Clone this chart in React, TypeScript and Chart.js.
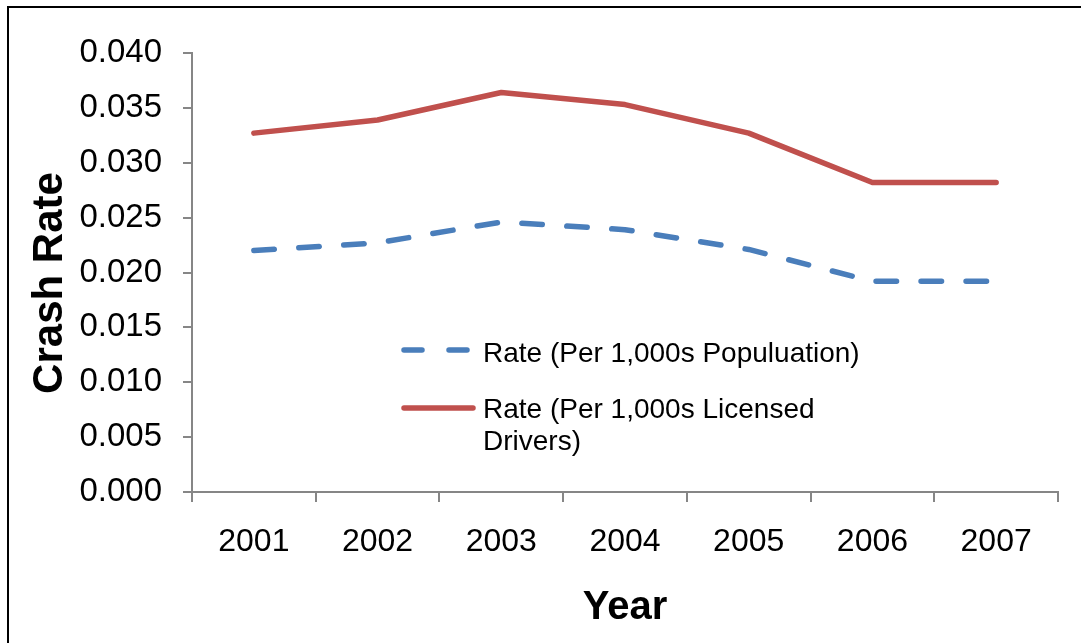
import React, { useEffect, useRef } from "react";
import { Chart, registerables } from "chart.js";

Chart.register(...registerables);

const years = ["2001", "2002", "2003", "2004", "2005", "2006", "2007"];
const populationRate = [0.022, 0.0227, 0.0246, 0.0239, 0.0221, 0.0192, 0.0192];
const licensedRate = [0.0327, 0.0339, 0.0364, 0.0353, 0.0327, 0.0282, 0.0282];
const populationLabel = "Rate (Per 1,000s Populuation)";
const licensedLabel = ["Rate (Per 1,000s Licensed", "Drivers)"];
const yTitle = "Crash Rate";
const xTitle = "Year";

const BLUE = "#4A7EBB";
const RED = "#C0504D";
const AXIS = "#868686";
const FONT = "'Liberation Sans', Arial, sans-serif";

const decorPlugin = {
  id: "decor",
  beforeDraw(chart: any) {
    const ctx = chart.ctx;
    ctx.save();
    ctx.fillStyle = "#ffffff";
    ctx.fillRect(0, 0, chart.width, chart.height);
    ctx.restore();
  },
  afterDraw(chart: any) {
    const ctx = chart.ctx;
    const a = chart.chartArea;
    ctx.save();
    // outer frame
    ctx.strokeStyle = "#000000";
    ctx.lineWidth = 2;
    ctx.strokeRect(8, 7, chart.width + 40, chart.height + 40);

    // y axis title
    ctx.save();
    ctx.translate(50, (a.top + a.bottom) / 2 + 10.5);
    ctx.rotate(-Math.PI / 2);
    ctx.font = `bold 42px ${FONT}`;
    ctx.fillStyle = "#000000";
    ctx.textAlign = "center";
    ctx.textBaseline = "middle";
    ctx.fillText(yTitle, 0, 0);
    ctx.restore();

    // legend
    const lx = a.left + 209;
    const y1 = a.top + 297;
    const y2 = a.top + 355;
    ctx.lineCap = "round";
    ctx.lineWidth = 5.5;
    ctx.strokeStyle = BLUE;
    ctx.beginPath();
    ctx.moveTo(lx + 3, y1);
    ctx.lineTo(lx + 21, y1);
    ctx.moveTo(lx + 48, y1);
    ctx.lineTo(lx + 66, y1);
    ctx.stroke();
    ctx.strokeStyle = RED;
    ctx.beginPath();
    ctx.moveTo(lx + 3, y2);
    ctx.lineTo(lx + 72, y2);
    ctx.stroke();

    ctx.font = `28px ${FONT}`;
    ctx.fillStyle = "#000000";
    ctx.textAlign = "left";
    ctx.textBaseline = "alphabetic";
    const tx = lx + 82;
    ctx.fillText(populationLabel, tx, y1 + 12);
    ctx.fillText(licensedLabel[0], tx, y2 + 10);
    ctx.fillText(licensedLabel[1], tx, y2 + 42);
    ctx.restore();
  },
};

export default function App() {
  const ref = useRef<HTMLCanvasElement | null>(null);

  useEffect(() => {
    if (!ref.current) return;
    const chart = new Chart(ref.current, {
      type: "line",
      data: {
        labels: years,
        datasets: [
          {
            label: populationLabel,
            data: populationRate,
            borderColor: BLUE,
            backgroundColor: BLUE,
            borderWidth: 5.5,
            borderDash: [20.5, 24.5],
            borderCapStyle: "round",
            borderJoinStyle: "round",
            pointRadius: 0,
            tension: 0,
            fill: false,
          },
          {
            label: licensedLabel.join(" "),
            data: licensedRate,
            borderColor: RED,
            backgroundColor: RED,
            borderWidth: 5.5,
            borderCapStyle: "round",
            borderJoinStyle: "round",
            pointRadius: 0,
            tension: 0,
            fill: false,
          },
        ],
      },
      options: {
        responsive: false,
        animation: false,
        devicePixelRatio: 1,
        layout: { padding: { top: 53, right: 23, left: 0, bottom: 0 } },
        plugins: {
          legend: { display: false },
          tooltip: { enabled: false },
          title: { display: false },
        },
        scales: {
          x: {
            type: "category",
            offset: true,
            afterFit: (scale: any) => {
              scale.height = 151;
            },
            grid: {
              offset: true,
              drawOnChartArea: false,
              drawTicks: true,
              tickLength: 10,
              color: AXIS,
              lineWidth: 2,
            },
            border: { display: true, color: AXIS, width: 2 },
            ticks: {
              color: "#000000",
              font: { family: FONT, size: 32 },
              padding: 21,
              maxRotation: 0,
              autoSkip: false,
            },
            title: {
              display: true,
              text: xTitle,
              color: "#000000",
              font: { family: FONT, size: 40, weight: "bold" },
              padding: { top: 0, bottom: 11 },
            },
          },
          y: {
            min: 0,
            max: 0.04,
            afterFit: (scale: any) => {
              scale.width = 192;
            },
            grid: {
              drawOnChartArea: false,
              drawTicks: true,
              tickLength: 9,
              color: AXIS,
              lineWidth: 2,
            },
            border: { display: true, color: AXIS, width: 2 },
            ticks: {
              stepSize: 0.005,
              color: "#000000",
              font: { family: FONT, size: 33 },
              padding: 21,
              callback: (v: any) => Number(v).toFixed(3),
            },
          },
        },
      },
      plugins: [decorPlugin],
    });
    return () => chart.destroy();
  }, []);

  return (
    <div style={{ position: "absolute", left: 0, top: 0, width: 1081, height: 643, background: "#fff" }}>
      <canvas ref={ref} width={1081} height={643} style={{ display: "block", width: 1081, height: 643 }} />
    </div>
  );
}
